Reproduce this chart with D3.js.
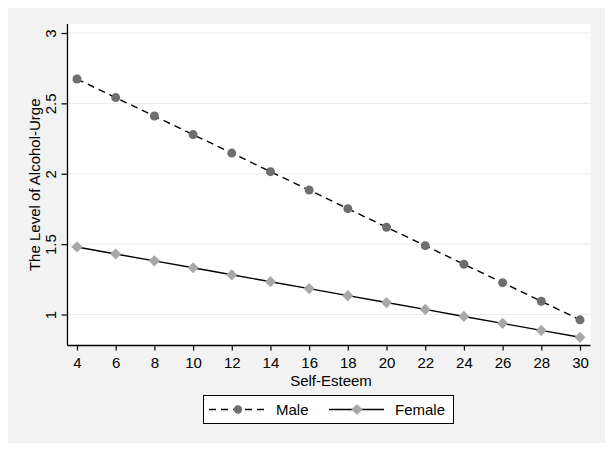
<!DOCTYPE html>
<html>
<head>
<meta charset="utf-8">
<script src="https://cdn.jsdelivr.net/npm/d3@7"></script>
<style>
html,body{margin:0;padding:0;background:#fff;}
svg{display:block;}
text{font-family:"Liberation Sans",Arial,sans-serif;fill:#000;}
</style>
</head>
<body>
<svg id="chart" width="614" height="453"></svg>
<script>
const selfEsteem = [4,6,8,10,12,14,16,18,20,22,24,26,28,30];
const maleUrge   = [2.673,2.541,2.410,2.278,2.147,2.015,1.884,1.752,1.620,1.489,1.357,1.226,1.094,0.962];
const femaleUrge = [1.480,1.430,1.381,1.332,1.282,1.233,1.184,1.134,1.085,1.036,0.986,0.937,0.887,0.838];
const xTicks = [4,6,8,10,12,14,16,18,20,22,24,26,28,30];
const yTicks = [1,1.5,2,2.5,3];
const yTickLabels = ["1","1.5","2","2.5","3"];
const seriesNames = ["Male","Female"];

const FS = 15;
const svg = d3.select("#chart");
// outer grey background
svg.append("rect").attr("x",8).attr("y",8).attr("width",597).attr("height",435).attr("fill","#f2f2f2");

const plot = {left:67.5, right:590.5, top:24, bottom:345.5};
svg.append("rect").attr("x",plot.left).attr("y",plot.top)
  .attr("width",plot.right-plot.left).attr("height",plot.bottom-plot.top).attr("fill","#fff");

const x = d3.scaleLinear().domain([4,30]).range([77,580]);
const y = d3.scaleLinear().domain([1,3]).range([314.5,33]);

// gridlines
svg.append("g").selectAll("line").data(yTicks).join("line")
  .attr("x1",plot.left).attr("x2",plot.right)
  .attr("y1",d=>y(d)).attr("y2",d=>y(d))
  .attr("stroke","#ebebeb").attr("stroke-width",1);

// x axis
const xAxis = d3.axisBottom(x).tickValues(xTicks).tickSize(5).tickPadding(7).tickFormat(d3.format("d"));
const gx = svg.append("g").attr("transform",`translate(0,${plot.bottom})`).call(xAxis);
gx.select(".domain").attr("d",`M${plot.left},0H${plot.right}`).attr("stroke","#000").attr("stroke-width",1.3);
gx.selectAll(".tick line").attr("stroke","#000").attr("stroke-width",1.2);
gx.selectAll(".tick text").attr("font-size",FS).attr("font-family","Liberation Sans, Arial, sans-serif").attr("fill","#000");

// y axis
const yAxis = d3.axisLeft(y).tickValues(yTicks).tickSize(6).tickFormat((d,i)=>yTickLabels[i]);
const gy = svg.append("g").attr("transform",`translate(${plot.left},0)`).call(yAxis);
gy.select(".domain").attr("d",`M0,${plot.top}V${plot.bottom}`).attr("stroke","#000").attr("stroke-width",1.3);
gy.selectAll(".tick line").attr("stroke","#000").attr("stroke-width",1.2);
gy.selectAll(".tick text")
  .attr("x",0).attr("y",0).attr("dy",null)
  .attr("text-anchor","middle")
  .attr("transform","translate(-12,0) rotate(-90)")
  .attr("font-size",FS).attr("font-family","Liberation Sans, Arial, sans-serif").attr("fill","#000");

// axis titles
svg.append("text").attr("x",(plot.left+plot.right)/2+2).attr("y",386)
  .attr("text-anchor","middle").attr("font-size",FS).text("Self-Esteem");
svg.append("text").attr("transform",`translate(40,${(plot.top+plot.bottom)/2}) rotate(-90)`)
  .attr("text-anchor","middle").attr("font-size",FS).text("The Level of Alcohol-Urge");

const line = d3.line().x(d=>x(d[0])).y(d=>y(d[1]));
const maleData = selfEsteem.map((s,i)=>[s,maleUrge[i]]);
const femaleData = selfEsteem.map((s,i)=>[s,femaleUrge[i]]);

svg.append("path").datum(maleData).attr("d",line).attr("fill","none")
  .attr("stroke","#000").attr("stroke-width",1.4).attr("stroke-dasharray","7,5");
svg.append("path").datum(femaleData).attr("d",line).attr("fill","none")
  .attr("stroke","#000").attr("stroke-width",1.4);

const diamond = d3.symbol().type(d3.symbolDiamond2).size(80);
svg.append("g").selectAll("circle").data(maleData).join("circle")
  .attr("cx",d=>x(d[0])).attr("cy",d=>y(d[1])).attr("r",4.5).attr("fill","#6e6e6e");
svg.append("g").selectAll("path").data(femaleData).join("path")
  .attr("d",diamond).attr("transform",d=>`translate(${x(d[0])},${y(d[1])})`).attr("fill","#a8a8a8");

// legend
const lg = svg.append("g");
lg.append("rect").attr("x",203.5).attr("y",395.5).attr("width",250).attr("height",28)
  .attr("fill","#fff").attr("stroke","#000").attr("stroke-width",1);
const ly = 409.5;
lg.append("line").attr("x1",209).attr("x2",266).attr("y1",ly).attr("y2",ly)
  .attr("stroke","#000").attr("stroke-width",1.4).attr("stroke-dasharray","7,5");
lg.append("circle").attr("cx",238).attr("cy",ly).attr("r",4.2).attr("fill","#6e6e6e");
lg.append("text").attr("x",276).attr("y",ly+5.5).attr("font-size",FS).text(seriesNames[0]);
lg.append("line").attr("x1",329).attr("x2",384).attr("y1",ly).attr("y2",ly)
  .attr("stroke","#000").attr("stroke-width",1.4);
lg.append("path").attr("d",diamond).attr("transform",`translate(357,${ly})`).attr("fill","#a8a8a8");
lg.append("text").attr("x",395).attr("y",ly+5.5).attr("font-size",FS).text(seriesNames[1]);
</script>
</body>
</html>
